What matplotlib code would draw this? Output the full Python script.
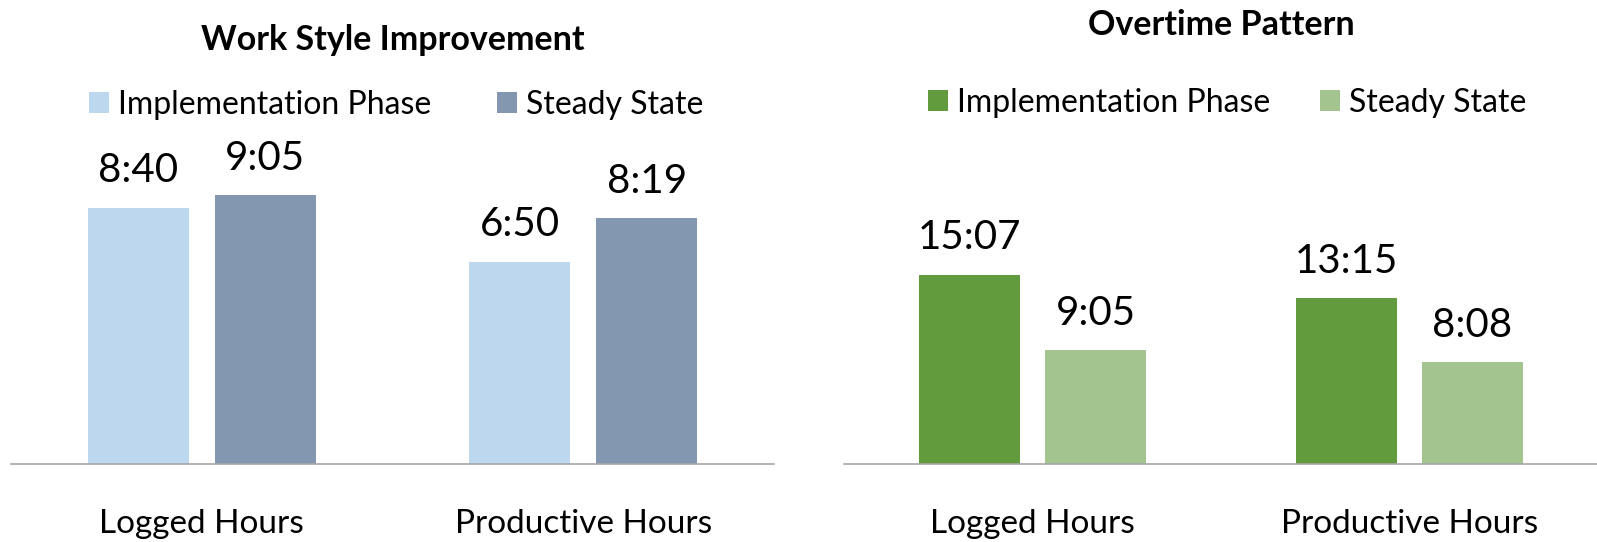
import matplotlib
matplotlib.use('Agg')
import matplotlib.pyplot as plt
from matplotlib.patches import Patch

plt.rcParams['font.family'] = ['Lato', 'DejaVu Sans']

categories = ['Logged Hours', 'Productive Hours']
series = ['Implementation Phase', 'Steady State']

# values as h:mm
work_impl = ['8:40', '6:50']
work_steady = ['9:05', '8:19']
over_impl = ['15:07', '13:15']
over_steady = ['9:05', '8:08']

work_colors = ['#BDD7EE', '#8497B0']
over_colors = ['#629A3E', '#A3C48F']


def to_hours(s):
  h, m = s.split(':')
  return int(h) + int(m) / 60.0


W, H = 1597, 542
fig = plt.figure(figsize=(W / 100, H / 100), dpi=100)

base_px = 464.3
top_px = 130


def make_axes(x0, x1, px_per_hour):
  ax = fig.add_axes([x0 / W, 1 - base_px / H, (x1 - x0) / W, (base_px - top_px) / H])
  ax.set_ylim(0, (base_px - top_px) / px_per_hour)
  ax.set_xlim(-0.5, 1.5)
  for s in ['top', 'left', 'right']:
    ax.spines[s].set_visible(False)
  ax.spines['bottom'].set_color('#A6A6A6')
  ax.spines['bottom'].set_linewidth(1.2)
  ax.set_yticks([])
  ax.set_xticks(range(len(categories)))
  ax.set_xticklabels(categories, fontsize=24)
  ax.tick_params(axis='x', length=0, pad=32)
  return ax


def draw(ax, impl, steady, colors, width, offset):
  for vals, col, sign in [(impl, colors[0], -1), (steady, colors[1], 1)]:
    xs = [i + sign * offset for i in range(len(vals))]
    ys = [to_hours(v) for v in vals]
    ax.bar(xs, ys, width=width, color=col)
    for x, y, lbl in zip(xs, ys, vals):
      ax.annotate(lbl, (x, y), xytext=(0, 18.4), textcoords='offset points',
                  ha='center', va='baseline', fontsize=29)


ax1 = make_axes(11, 774, 29.6)
draw(ax1, work_impl, work_steady, work_colors, 0.265, 0.1665)

ax2 = make_axes(844, 1598, 12.53)
draw(ax2, over_impl, over_steady, over_colors, 0.268, 0.167)

fig.text(392.5 / W, 1 - 50 / H, 'Work Style Improvement', ha='center', va='baseline',
         fontsize=24.5, fontweight='bold')
fig.text(1221 / W, 1 - 35 / H, 'Overtime Pattern', ha='center', va='baseline',
         fontsize=24.5, fontweight='bold')

for cols, cx, cy, colsp in [(work_colors, 396, 104.5, 2.07), (over_colors, 1227, 103, 1.57)]:
  handles = [Patch(facecolor=c, edgecolor='none') for c in cols]
  fig.legend(handles, series, loc='center', bbox_to_anchor=(cx / W, 1 - cy / H),
             ncol=2, frameon=False, fontsize=23, handlelength=0.63, handleheight=0.63,
             handletextpad=0.28, columnspacing=colsp, borderpad=0, borderaxespad=0)

plt.savefig('out.png', dpi=100)
